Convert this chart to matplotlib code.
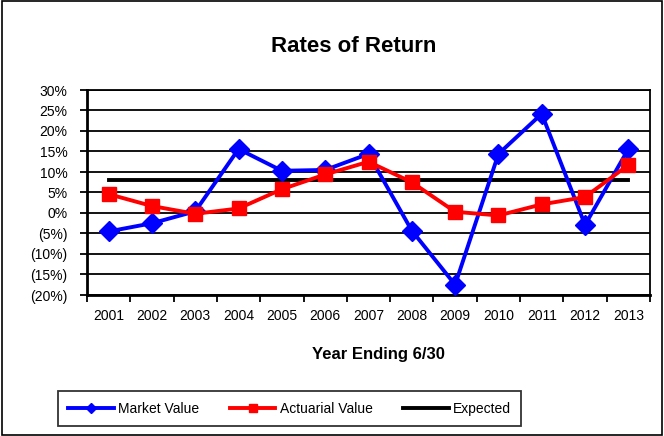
import matplotlib
matplotlib.use("Agg")
import matplotlib.pyplot as plt
from matplotlib.patches import Rectangle
import numpy as np

years = ["2001","2002","2003","2004","2005","2006","2007","2008","2009","2010","2011","2012","2013"]
market = [-4.5, -2.5, 0.4, 15.6, 10.3, 10.5, 14.4, -4.3, -17.5, 14.4, 24.2, -2.9, 15.6]
actuarial = [4.6, 1.7, -0.2, 1.1, 5.8, 9.4, 12.5, 7.5, 0.3, -0.6, 2.1, 3.9, 11.7]
expected = [8.0] * 13
yticks = [30, 25, 20, 15, 10, 5, 0, -5, -10, -15, -20]

def fmt(v):
    return f"{v}%" if v >= 0 else f"({-v}%)"

plt.rcParams['font.family'] = ['Liberation Sans', 'DejaVu Sans']
fig = plt.figure(figsize=(6.64, 4.36), dpi=100)
fig.patches.append(Rectangle((0.003, 0.003), 0.994, 0.994, transform=fig.transFigure,
                             fill=False, edgecolor='black', lw=1.2))
ax = fig.add_axes([87/664, 1-295/436, (650-87)/664, (295-90)/436])
x = np.arange(len(years))
ax.plot(x, expected, color='black', lw=2.8, label='Expected', zorder=3)
ax.plot(x, market, color='#0000FF', lw=2.8, marker='D', ms=10, label='Market Value', zorder=4)
ax.plot(x, actuarial, color='#FF0000', lw=2.8, marker='s', ms=10.5, label='Actuarial Value', zorder=5)
ax.set_xlim(-0.5, len(years)-0.5)
ax.set_ylim(-20, 30)
ax.set_yticks(yticks)
ax.set_yticklabels([fmt(v) for v in yticks], fontsize=10)
for v in yticks:
    ax.axhline(v, color='black', lw=1.3, zorder=1)
ax.set_xticks(x)
ax.set_xticklabels(years, fontsize=10)
ax.set_xticks(np.arange(-0.5, len(years)), minor=True)
ax.tick_params(axis='x', which='major', length=0, pad=10)
ax.tick_params(axis='x', which='minor', length=5, width=1.3, direction='out')
ax.tick_params(axis='y', length=5, width=1.3, pad=9)
for s in ax.spines.values():
    s.set_linewidth(1.3)
ax.spines['left'].set_linewidth(2)
ax.spines['bottom'].set_linewidth(2)
fig.text(354/664, 1-47/436, "Rates of Return", ha='center', va='center', fontsize=16, fontweight='bold')
fig.text(378/664, 1-355/436, "Year Ending 6/30", ha='center', va='center', fontsize=12, fontweight='bold')
h, l = ax.get_legend_handles_labels()
order = [1, 2, 0]
leg = fig.legend([h[i] for i in order], [l[i] for i in order], loc='center',
                 bbox_to_anchor=(((58+521)/2)/664, 1-408.5/436), ncol=3, fontsize=10,
                 frameon=True, fancybox=False, edgecolor='black', handlelength=3.3,
                 markerscale=0.5, columnspacing=2.2, borderpad=0.75, handletextpad=0.3,
                 borderaxespad=0)
leg.get_frame().set_linewidth(1.3)
fig.savefig("out.png", dpi=100)
